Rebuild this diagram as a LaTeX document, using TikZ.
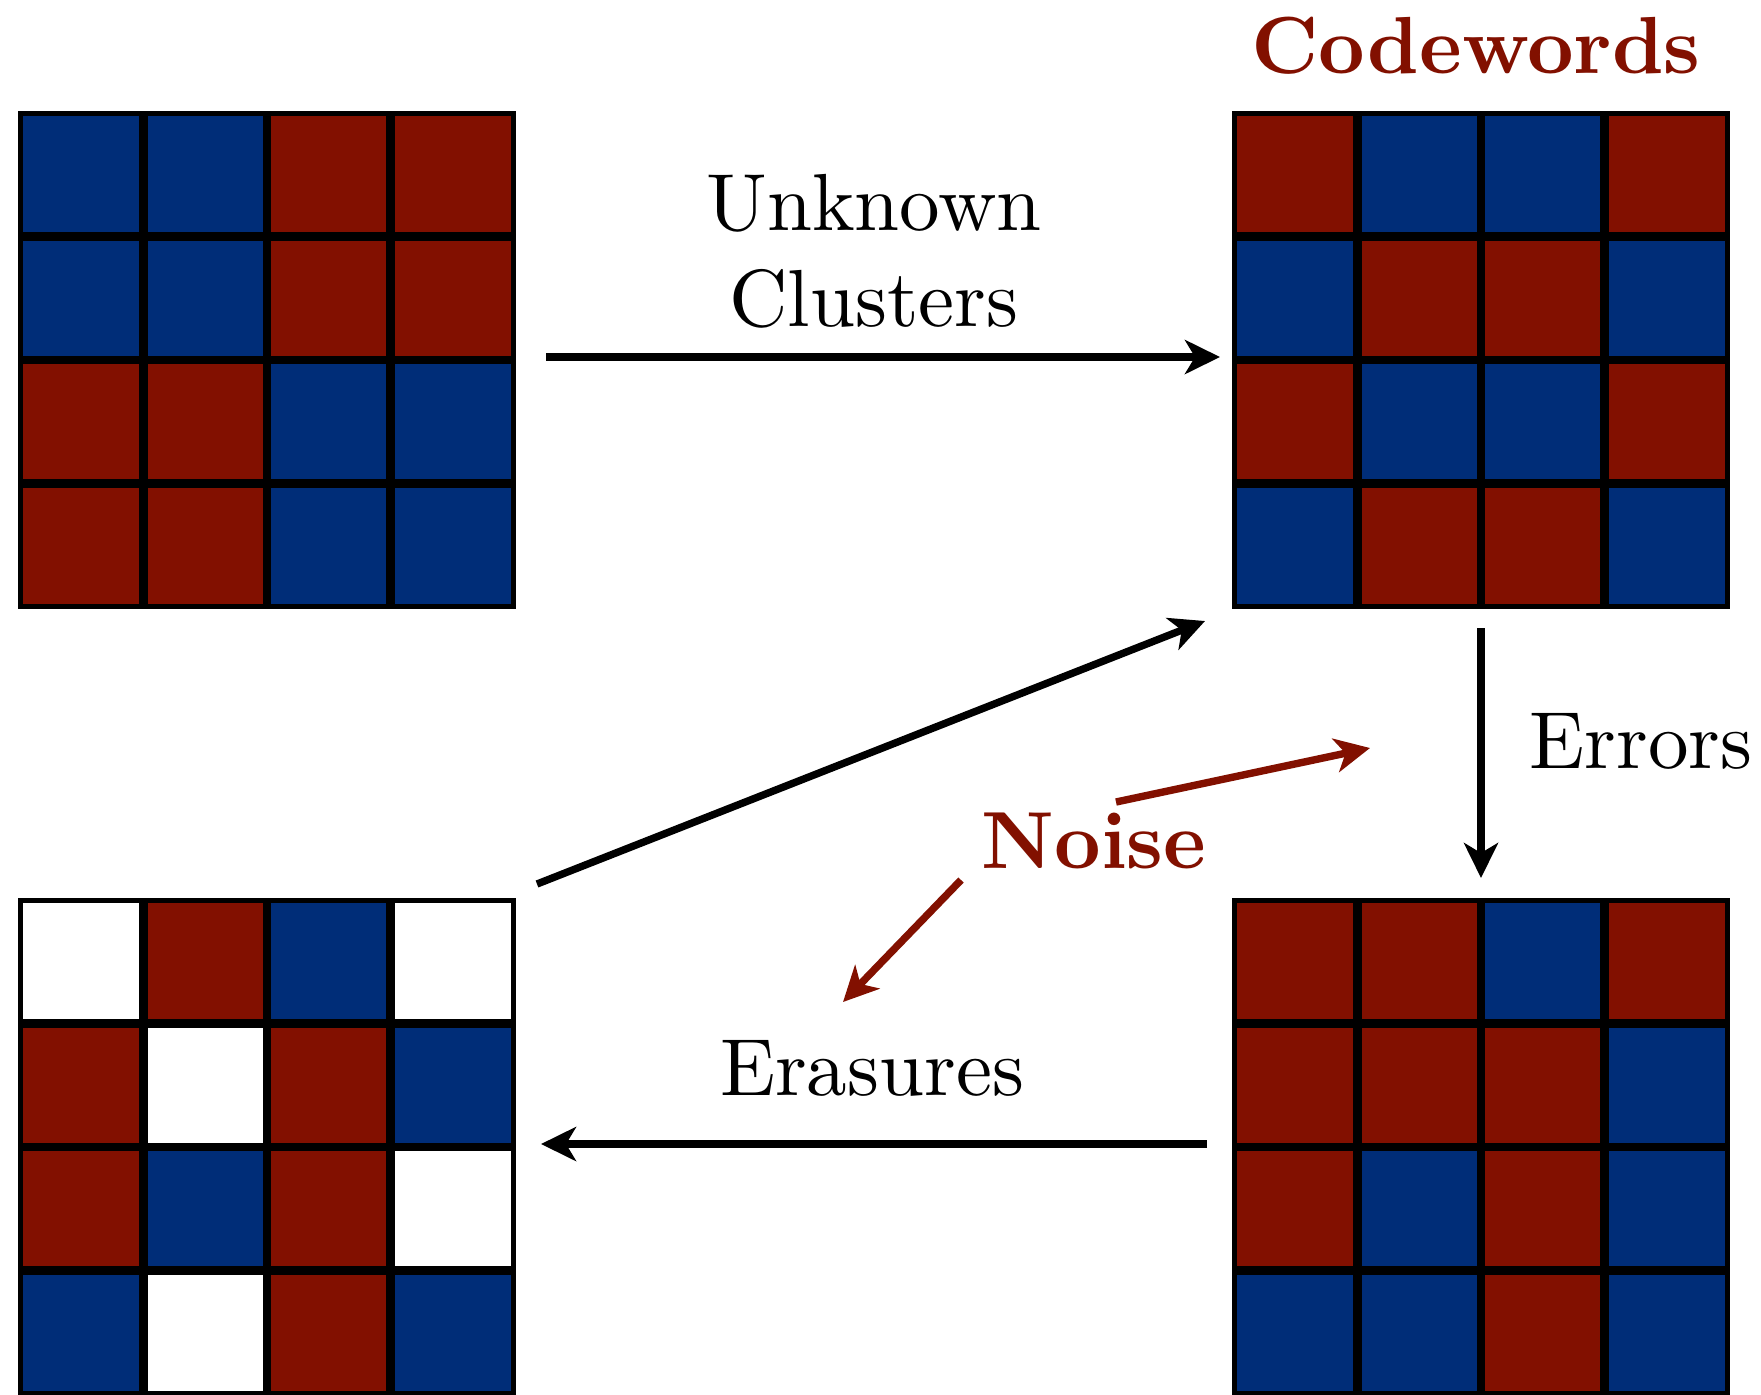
\documentclass[tikz,border=0pt]{standalone}
\usepackage{graphicx}
\usetikzlibrary{arrows.meta}
\definecolor{cr}{RGB}{130,16,0}
\definecolor{cb}{RGB}{0,45,120}
\definecolor{cw}{RGB}{255,255,255}
\newcommand{\cellgrid}[3]{%
  \foreach \c [count=\k from 0] in {#3} {
    \pgfmathtruncatemacro{\colx}{mod(\k,4)}
    \pgfmathtruncatemacro{\rowy}{div(\k,4)}
    \fill[fill=c\c] ({#1+\colx*123.25},{#2+\rowy*123.25}) rectangle ++(123.25,123.25);
  }
  \foreach \i in {1,2,3} {
    \draw[innerline] ({#1+\i*123.25},#2) -- ++(0,493);
    \draw[innerline] (#1,{#2+\i*123.25}) -- ++(493,0);
  }
  \draw[gridline] (#1,#2) rectangle ++(493,493);
}
\newcommand{\bigtxt}[1]{\scalebox{4.05}{#1}}
\begin{document}
\begin{tikzpicture}[x=0.5pt,y=-0.5pt,
  gridline/.style={line width=2.65pt,black},
  innerline/.style={line width=4.3pt,black},
  lbl/.style={inner sep=0pt,anchor=base,font=\fontsize{10}{12}\selectfont},
  blbl/.style={lbl,font=\fontsize{10}{12}\selectfont\bfseries,text=cr},
  arr/.style={line width=3.7pt,-{Stealth[length=17.5pt,width=17pt,inset=5pt]}},
  noisearr/.style={arr,cr}]
\useasboundingbox (0,0) rectangle (1761,1394);
% grids
\cellgrid{20.5}{113.5}{b,b,r,r, b,b,r,r, r,r,b,b, r,r,b,b}
\cellgrid{1234.5}{113.5}{r,b,b,r, b,r,r,b, r,b,b,r, b,r,r,b}
\cellgrid{20.5}{900.5}{w,r,b,w, r,w,r,b, r,b,r,w, b,w,r,b}
\cellgrid{1234.5}{900.5}{r,r,b,r, r,r,r,b, r,b,r,b, b,b,r,b}
% labels
\node[blbl] (codewords) at (1476,73) {\bigtxt{Codewords}};
\node[lbl] (unknown) at (874,230) {\bigtxt{Unknown}};
\node[lbl] (clusters) at (874,326) {\bigtxt{Clusters}};
\node[lbl] (errors) at (1641,768) {\bigtxt{Errors}};
\node[blbl] (noise) at (1094,868) {\bigtxt{Noise}};
\node[lbl] (erasures) at (872,1095) {\bigtxt{Erasures}};
% arrow end points
\coordinate (t1) at (546,357);
\coordinate (t2) at (1220,357);
\coordinate (v1) at (1481,628);
\coordinate (v2) at (1481,878);
\coordinate (b1) at (1207,1144);
\coordinate (b2) at (541,1144);
\coordinate (d1) at (537,884);
\coordinate (d2) at (1205,621);
\coordinate (n1) at (1116,802);
\coordinate (n2) at (1370,748);
\coordinate (m1) at (961,880);
\coordinate (m2) at (843,1002);
% arrows
\draw[arr] (t1) -- (t2);
\draw[arr] (v1) -- (v2);
\draw[arr] (b1) -- (b2);
\draw[arr] (d1) -- (d2);
\draw[noisearr] (n1) -- (n2);
\draw[noisearr] (m1) -- (m2);
\end{tikzpicture}
\end{document}
